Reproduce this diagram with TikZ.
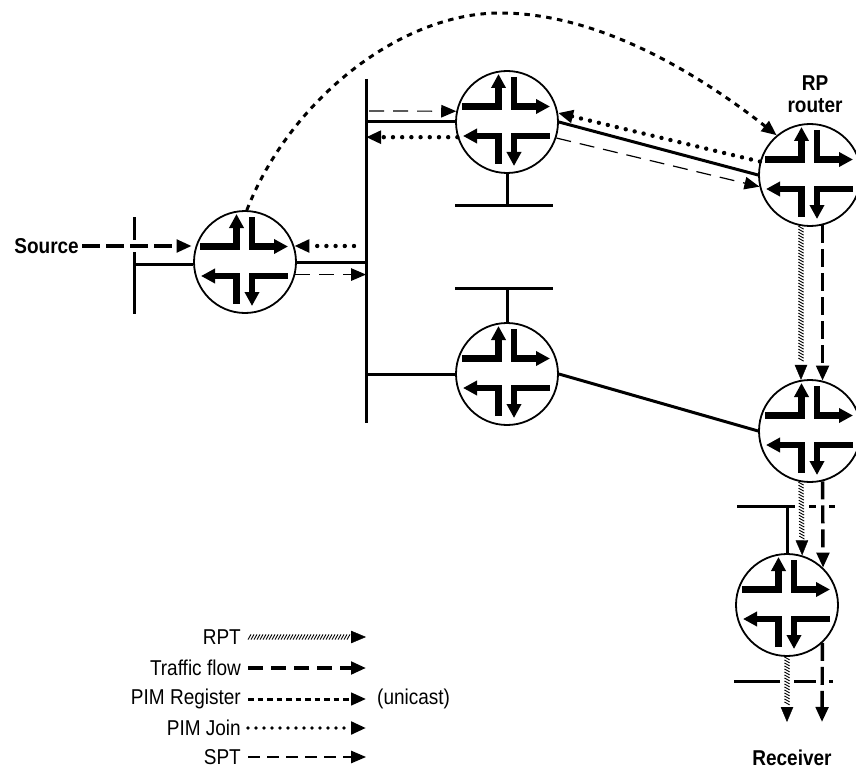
\documentclass[tikz,border=0pt]{standalone}
\usepackage{fontspec}
\setmainfont{Liberation Sans}
\usetikzlibrary{arrows.meta,decorations.pathreplacing}
\tikzset{
  head/.tip={Triangle[length=15pt,width=12.5pt]},
  router/.style={circle,draw,line width=1.8pt,minimum size=102pt,inner sep=0pt},
  lan/.style={line width=3pt},
  link/.style={line width=3pt},
  traffic/.style={line width=3.4pt,dash pattern=on 18pt off 6pt,-head},
  spt/.style={line width=1.2pt,dash pattern=on 15pt off 9pt,-head},
  pimjoin/.style={line width=4.4pt,line cap=round,dash pattern=on 0pt off 9.2pt,-{head[line cap=butt]}},
  register/.style={line width=3pt,dash pattern=on 5.5pt off 5.5pt,-head},
  rpt/.style={line width=0.4pt,draw=white,-{head[black]},
    postaction={draw=black,-,line width=0.9pt,decorate,
      decoration={border,segment length=3pt,amplitude=6pt,angle=60,raise=-2.6pt,post length=16pt,post=moveto}}},
  lbl/.style={font=\fontsize{19pt}{20pt}\selectfont,inner sep=3pt,transform shape,yscale=1.13},
  lgd/.style={lbl,anchor=east,inner xsep=7pt},
  boldlbl/.style={lbl,font=\fontsize{19pt}{20pt}\selectfont\bfseries},
  bar/.style={line width=6.6pt,-{Triangle[length=14pt,width=14pt]}},
  pics/glyph/.style={code={
    \draw[bar] (-45,-15.5) -- (-8.5,-15.5) -- (-8.5,-48);
    \draw[bar] (7,-45) -- (7,-15.5) -- (43,-15.5);
    \draw[bar] (43,14) -- (7,14) -- (7,44);
    \draw[bar] (-8.5,42) -- (-8.5,14) -- (-44,14);
  }}
}
\begin{document}
\begin{tikzpicture}[x=1pt,y=-1pt]
  \useasboundingbox (0,0) rectangle (856,770);
  % routers
  \node[router] (r1) at (245,262) {};
  \node[router] (r2) at (507,122) {};
  \node[router] (r3) at (810,175) {};
  \node[router] (r4) at (507,374) {};
  \node[router] (r5) at (810,431) {};
  \node[router] (r6) at (787,605) {};
  \foreach \r in {r1,r2,r3,r4,r5,r6}
    \pic at (\r) {glyph};
  % networks
  \coordinate (bust) at (366,79);
  \coordinate (busb) at (366,423);
  \coordinate (lan2) at (507,205);
  \coordinate (lan4) at (507,288);
  \coordinate (lan1) at (134,264);
  \coordinate (lan6) at (787,506);
  \draw[lan] (bust) -- (busb);
  \draw[lan] (134,217) -- (134,240);
  \draw[lan] (134,252) -- (134,314);
  \draw[lan] (455,205) -- (553,205);
  \draw[lan] (455,288) -- (553,288);
  \foreach \a/\b in {737/795,809/816,829/835}
    \draw[lan] (\a,506) -- (\b,506);
  \foreach \a/\b in {734/780,794/816,829/833}
    \draw[lan] (\a,681) -- (\b,681);
  \draw[link] (lan1) -- (r1.west |- lan1);
  \draw[link] (r1.east) -- (r1.east -| bust);
  \draw[link] (r2.west) -- (r2.west -| bust);
  \draw[link] (r4.west) -- (r4.west -| bust);
  \draw[link] (r2.south) -- (lan2);
  \draw[link] (r4.north) -- (lan4);
  \draw[link] (lan6) -- (r6.north);
  \draw[link] (r2.east) -- (r3.west);
  \draw[link] (r4.east) -- (r5.west);
  % source side
  \node[boldlbl,anchor=east] (src) at (82,246) {Source};
  \draw[traffic,shorten >=4pt] (src.east) -- (src.east -| r1.162);
  \coordinate (jn1) at (354,246);
  \draw[pimjoin] (jn1) -- (r1.18);
  \draw[spt] (r1.-14) -- (r1.-14 -| bust);
  % middle router
  \coordinate (sp2) at (369,111);
  \draw[spt] (sp2) -- (r2.168);
  \draw[pimjoin] (r2.197) -- (r2.197 -| bust);
  \draw[pimjoin] (r3.165) -- (r2.10);
  \draw[spt] (r2.-18) -- (r3.193);
  % register
  \draw[register] (r1.88) .. controls (290,100) and (400,13) .. (500,13)
    .. controls (600,13) and (700,75) .. (r3.130);
  % down to the receiver
  \draw[rpt] (r3.260) -- (r5.100);
  \draw[traffic] (r3.-76) -- (r5.76);
  \draw[rpt] (r5.260) -- (r6.73);
  \draw[traffic] (r5.-76) -- (r6.46);
  \coordinate (rxa) at (787,722);
  \coordinate (rxb) at (822,722);
  \draw[rpt] (r6.south) -- (rxa);
  \draw[traffic] (r6.-47) -- (rxb);
  % labels
  \node[boldlbl] (rplbl) at (815,83) {RP};
  \node[boldlbl] (rplbl2) at (815,106) {router};
  \node[boldlbl] (rcv) at (792,758) {Receiver};
  % legend
  \coordinate (tip) at (366,0);
  \node[lgd] (l1) at (248,637) {RPT};
  \node[lgd] (l2) at (248,668) {Traffic flow};
  \node[lgd] (l3) at (248,699) {PIM Register};
  \node[lgd] (l4) at (248,728) {PIM Join};
  \node[lgd] (l5) at (248,757) {SPT};
  \node[lbl,anchor=west] (uni) at (374,699) {(unicast)};
  \draw[rpt] (l1.east) -- (l1.east -| tip);
  \draw[traffic,dash pattern=on 15pt off 8pt] (l2.east) -- (l2.east -| tip);
  \draw[register,dash pattern=on 5.5pt off 4pt] (l3.east) -- (l3.east -| tip);
  \draw[pimjoin,line width=3.6pt,dash pattern=on 0pt off 8pt] (l4.east) -- (l4.east -| tip);
  \draw[spt,dash pattern=on 12pt off 7pt] (l5.east) -- (l5.east -| tip);
\end{tikzpicture}
\end{document}
